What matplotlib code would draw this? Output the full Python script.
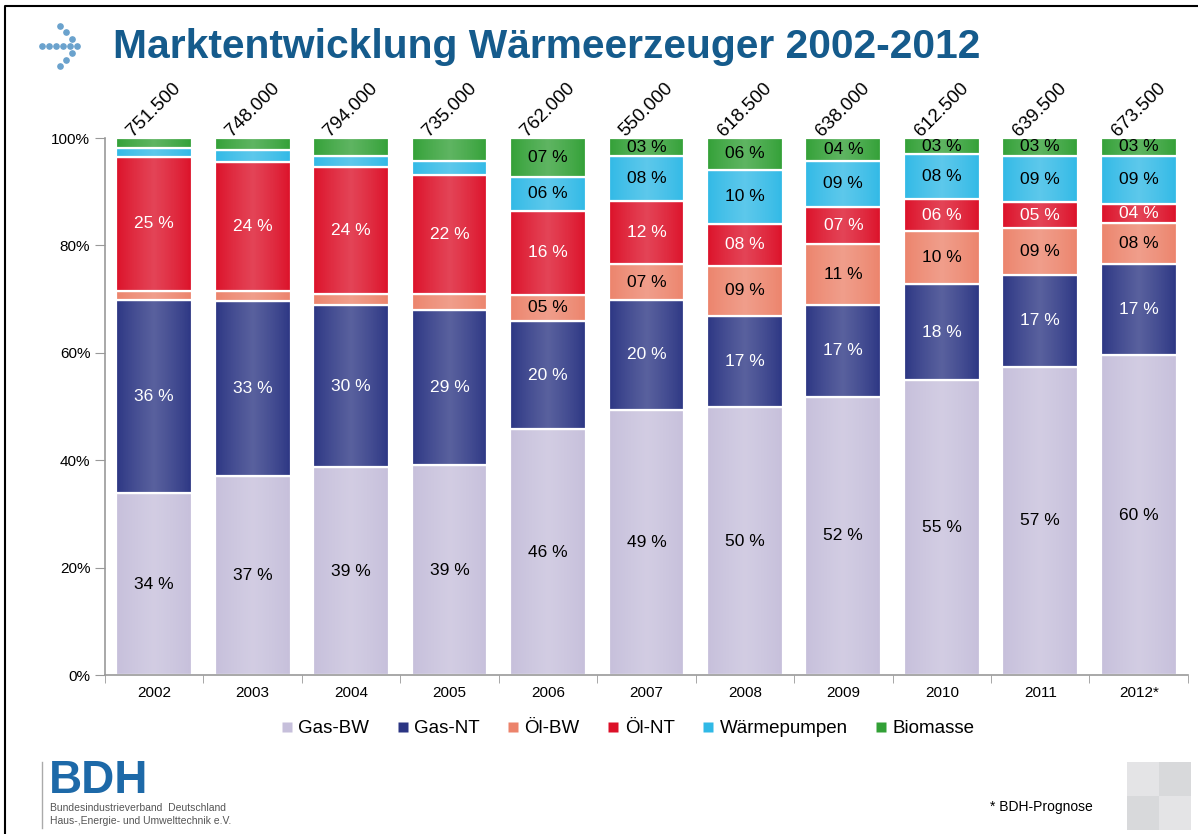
import numpy as np
import matplotlib.pyplot as plt
from matplotlib.lines import Line2D
from matplotlib.patches import Rectangle

plt.rcParams['font.family'] = ['Liberation Sans', 'DejaVu Sans']

years = ['2002', '2003', '2004', '2005', '2006', '2007', '2008', '2009', '2010', '2011', '2012*']
totals = [751500, 748000, 794000, 735000, 762000, 550000, 618500, 638000, 612500, 639500, 673500]

gas_bw = [33.9, 37.0, 38.7, 39.1, 45.8, 49.4, 49.9, 51.8, 54.9, 57.4, 59.6]
gas_nt = [36.0, 32.7, 30.2, 28.9, 20.1, 20.4, 17.0, 17.1, 17.9, 17.1, 16.9]
oel_bw = [1.6, 1.9, 2.1, 3.0, 4.9, 6.7, 9.3, 11.3, 9.8, 8.8, 7.6]
oel_nt = [25.0, 24.0, 23.6, 22.2, 15.6, 11.8, 7.8, 6.9, 6.1, 4.7, 3.6]
waermepumpen = [1.6, 2.1, 2.0, 2.6, 6.4, 8.3, 10.1, 8.7, 8.3, 8.7, 9.0]
biomasse = [1.9, 2.3, 3.4, 4.2, 7.2, 3.4, 5.9, 4.2, 3.0, 3.3, 3.3]

series = [
    ('Gas-BW', gas_bw, '#c6bfdb', 'black'),
    ('Gas-NT', gas_nt, '#2b3583', 'white'),
    ('Öl-BW', oel_bw, '#ec836b', 'black'),
    ('Öl-NT', oel_nt, '#dc1028', 'white'),
    ('Wärmepumpen', waermepumpen, '#30b9e6', 'black'),
    ('Biomasse', biomasse, '#32a036', 'black'),
]

fig = plt.figure(figsize=(11.98, 8.34), dpi=100)
ax = fig.add_axes([0.0876, 0.1906, 0.904, 0.6439])

# soft horizontal sheen for the bars
t = np.linspace(0, 1, 64)
sheen = np.zeros((1, 64, 4))
sheen[..., :3] = 1.0
sheen[0, :, 3] = 0.22 * (1 - np.abs(2 * t - 1)) ** 0.8

x = list(range(len(years)))
bottom = [0.0] * len(years)
handles = []
for name, vals, color, tcol in series:
    bars = ax.bar(x, vals, width=0.77, bottom=bottom, color=color,
                  edgecolor='white', linewidth=1.6, zorder=2)
    for i, (v, p) in enumerate(zip(vals, bars.patches)):
        im = ax.imshow(sheen, extent=(i - 0.385, i + 0.385, bottom[i], bottom[i] + v),
                       aspect='auto', zorder=2.5, interpolation='bilinear')
        im.set_clip_path(p)
        if i >= 4 or v >= 10:
            ax.text(i, bottom[i] + v / 2, f"{round(v):02d} %", ha='center', va='center',
                    color=tcol, fontsize=12.5, zorder=3)
    bottom = [b + v for b, v in zip(bottom, vals)]
    handles.append(Line2D([], [], marker='s', linestyle='none', markersize=7,
                          markerfacecolor=color, markeredgecolor='none', label=name))

for i, tot in enumerate(totals):
    ax.text(i, 105.3, f"{tot:,}".replace(',', '.'), rotation=45, ha='center', va='center',
            fontsize=13.5, clip_on=False)

ax.set_xlim(-0.5, 10.5)
ax.set_ylim(0, 100)
ax.set_yticks([0, 20, 40, 60, 80, 100])
ax.set_yticklabels(['0%', '20%', '40%', '60%', '80%', '100%'], fontsize=11)
ax.set_xticks(x)
ax.set_xticklabels(years, fontsize=11)
ax.set_xticks([i + 0.5 for i in range(-1, 11)], minor=True)
ax.tick_params(axis='x', which='major', length=0, pad=8)
ax.tick_params(axis='x', which='minor', length=6, color='#999999')
ax.tick_params(axis='y', length=7, color='#999999', direction='out')
for s in ['top', 'right']:
    ax.spines[s].set_visible(False)
for s in ['left', 'bottom']:
    ax.spines[s].set_color('#999999')
    ax.spines[s].set_linewidth(1.2)

fig.legend(handles=handles, loc='center', bbox_to_anchor=(0.524, 0.126), ncol=6,
           frameon=False, fontsize=13.5, handlelength=0.6, handletextpad=0.3,
           columnspacing=1.5)

# title and logo
fig.text(113 / 1198, 1 - 47 / 834, 'Marktentwicklung Wärmeerzeuger 2002-2012',
         fontsize=29.3, fontweight='bold', color='#155b8c', va='center', ha='left')
dots = [(42, 46), (49, 46), (56, 46), (63, 46), (70, 46), (77, 46),
        (60, 26), (66, 32), (72, 39), (72, 53), (66, 60), (60, 66)]
fig.add_artist(plt.Line2D([d[0] / 1198 for d in dots], [1 - d[1] / 834 for d in dots],
                          marker='o', linestyle='none', markersize=3.8,
                          color='#6aa2cd', transform=fig.transFigure))

# BDH logo
fig.add_artist(plt.Line2D([42 / 1198, 42 / 1198], [1 - 762 / 834, 1 - 828 / 834],
                          color='#aaaaaa', linewidth=1, transform=fig.transFigure))
fig.text(49 / 1198, 1 - 781 / 834, 'BDH', fontsize=33, fontweight='bold',
         color='#1d69a8', va='center', ha='left')
fig.text(50 / 1198, 1 - 808 / 834, 'Bundesindustrieverband  Deutschland', fontsize=7.5,
         color='#555555', va='center', ha='left')
fig.text(50 / 1198, 1 - 821 / 834, 'Haus-,Energie- und Umwelttechnik e.V.', fontsize=7.5,
         color='#555555', va='center', ha='left')

fig.text(990 / 1198, 1 - 807 / 834, '* BDH-Prognose', fontsize=10, va='center', ha='left')

# grey squares bottom right
for (sx, sy, c) in [(1127, 762, '#e4e4e6'), (1159, 762, '#d8d9db'),
                    (1127, 796, '#d8d9db'), (1159, 796, '#e4e4e6')]:
    fig.add_artist(Rectangle((sx / 1198, 1 - (sy + 34) / 834), 32 / 1198, 34 / 834,
                             facecolor=c, edgecolor='none', transform=fig.transFigure))

# slide border (left and top)
fig.add_artist(plt.Line2D([5 / 1198, 5 / 1198, 1], [0, 1 - 6 / 834, 1 - 6 / 834],
                          color='black', linewidth=1.5, transform=fig.transFigure))

fig.savefig('out.png', dpi=100)
